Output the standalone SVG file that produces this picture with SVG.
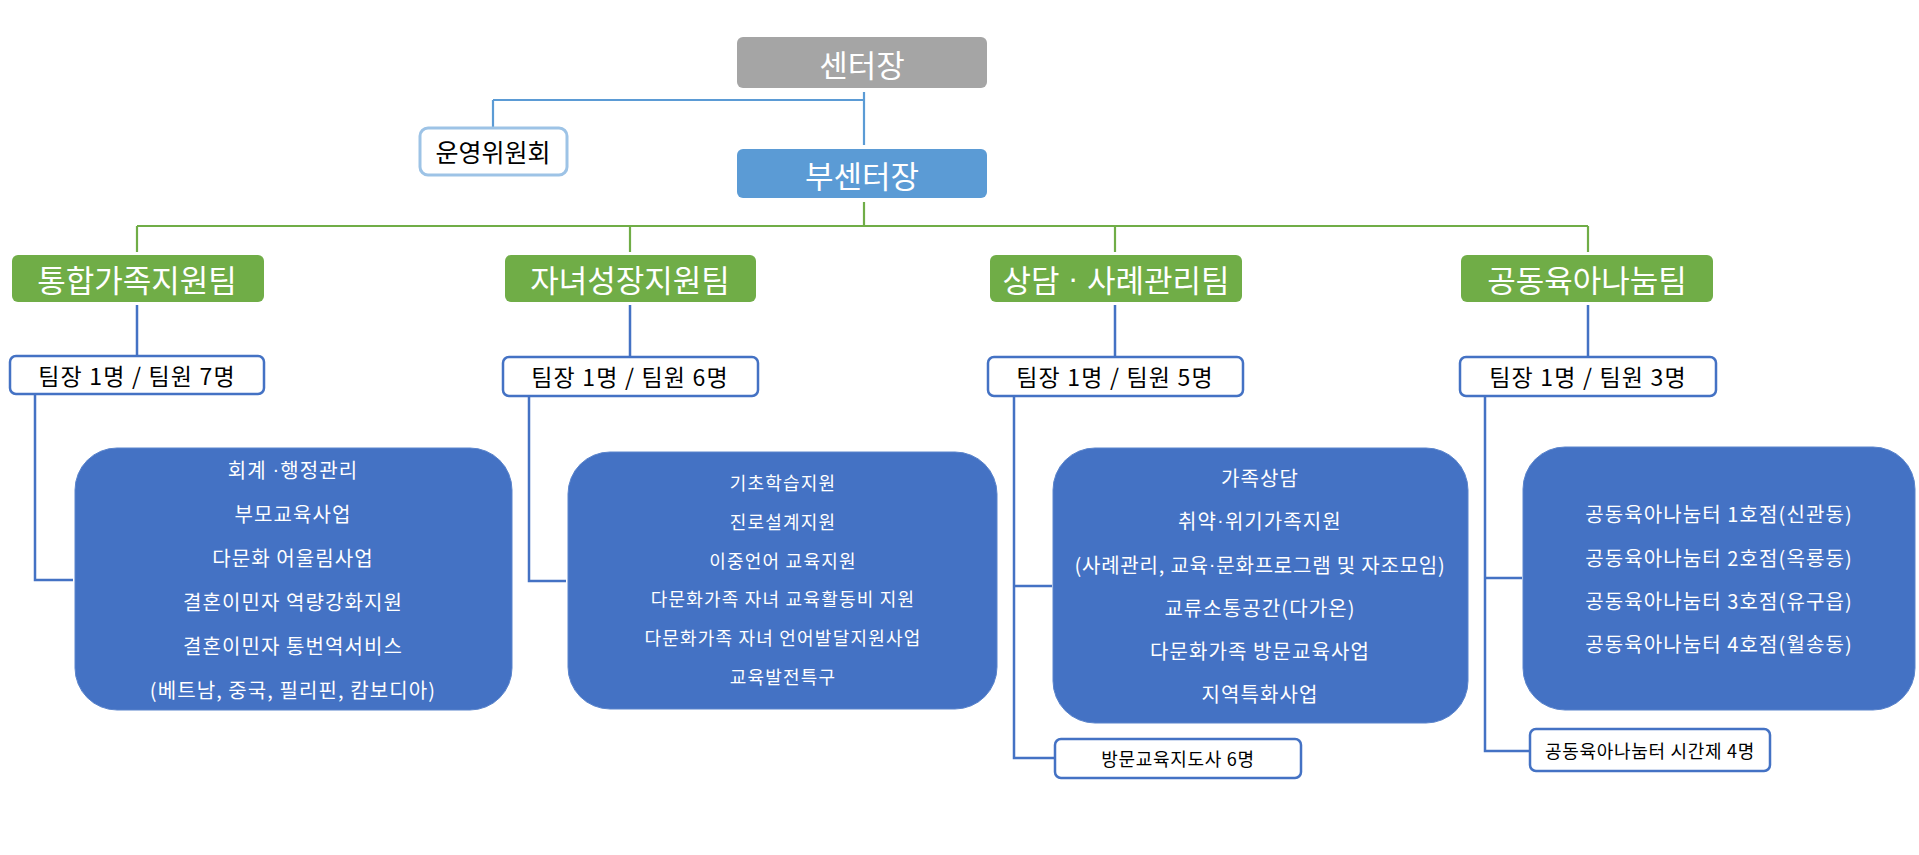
<svg xmlns="http://www.w3.org/2000/svg" width="1919" height="855" viewBox="0 0 1919 855">
<style>
text{font-family:"Noto Sans CJK KR","Noto Sans",sans-serif;text-anchor:middle;dominant-baseline:central}
.lg{font-size:31px;fill:#fff}
.mid{font-size:25px;fill:#000}
.tl{font-size:23px;fill:#000;letter-spacing:1.2px}
.bt{font-size:20px;fill:#fff;letter-spacing:1.1px}
.bt2{font-size:18px;fill:#fff;letter-spacing:1.2px}
.sm{font-size:18px;fill:#000;letter-spacing:0.7px}
.dot{font-family:"Liberation Sans",sans-serif}
.team{fill:#70AD47}
.lead{fill:#fff;stroke:#4472C4;stroke-width:2.5}
.big{fill:#4472C4;stroke:#5A84CC;stroke-width:1}
.g{stroke:#70AD47;stroke-width:2.2;fill:none}
.b{stroke:#4472C4;stroke-width:2.5;fill:none}
.lb{stroke:#5B9BD5;stroke-width:2.2;fill:none}
</style>
<rect width="1919" height="855" fill="#fff"/>
<g id="connectors">
<path class="lb" d="M864 92V145M493 100H864M493 100V127"/>
<path class="g" d="M864 202V226M137 226H1588M137 226V252M630 226V252M1115 226V252M1588 226V252"/>
<path class="b" d="M137 305V356M630 305V357M1115 305V357M1588 305V356"/>
<path class="b" d="M35 394V580H73"/>
<path class="b" d="M529 396V581H566"/>
<path class="b" d="M1014 396V758H1055M1014 586H1052"/>
<path class="b" d="M1485 396V751H1530M1485 578H1522"/>
</g>
<g id="n-center"><rect x="737" y="37" width="250" height="51" rx="6" fill="#A5A5A5"/><text class="lg" x="862" y="63">센터장</text></g>
<g id="n-committee"><rect x="420" y="128" width="147" height="47" rx="8" fill="#fff" stroke="#9DC3E6" stroke-width="3"/><text class="mid" x="493" y="151">운영위원회</text></g>
<g id="n-vice"><rect x="737" y="149" width="250" height="49" rx="6" fill="#5B9BD5"/><text class="lg" x="862" y="174">부센터장</text></g>
<g id="n-team1"><rect class="team" x="12" y="255" width="252" height="47" rx="6"/><text class="lg" x="137" y="278">통합가족지원팀</text></g>
<g id="n-team2"><rect class="team" x="505" y="255" width="251" height="47" rx="6"/><text class="lg" x="630" y="278">자녀성장지원팀</text></g>
<g id="n-team3"><rect class="team" x="990" y="255" width="252" height="47" rx="6"/><text class="lg" x="1116" y="278">상담<tspan class="dot"> · </tspan>사례관리팀</text></g>
<g id="n-team4"><rect class="team" x="1461" y="255" width="252" height="47" rx="6"/><text class="lg" x="1587" y="278">공동육아나눔팀</text></g>
<g id="n-lead1"><rect class="lead" x="10" y="356" width="254" height="38" rx="6"/><text class="tl" x="137" y="375">팀장 1명 / 팀원 7명</text></g>
<g id="n-lead2"><rect class="lead" x="503" y="357" width="255" height="39" rx="6"/><text class="tl" x="630" y="376">팀장 1명 / 팀원 6명</text></g>
<g id="n-lead3"><rect class="lead" x="988" y="357" width="255" height="39" rx="6"/><text class="tl" x="1115" y="376">팀장 1명 / 팀원 5명</text></g>
<g id="n-lead4"><rect class="lead" x="1460" y="357" width="256" height="39" rx="6"/><text class="tl" x="1588" y="376">팀장 1명 / 팀원 3명</text></g>
<g id="n-work1"><rect class="big" x="75" y="448" width="437" height="262" rx="42"/>
<text class="bt" x="293" y="469">회계 <tspan class="dot">·</tspan>행정관리</text>
<text class="bt" x="293" y="513">부모교육사업</text>
<text class="bt" x="293" y="557">다문화 어울림사업</text>
<text class="bt" x="293" y="601">결혼이민자 역량강화지원</text>
<text class="bt" x="293" y="645">결혼이민자 통번역서비스</text>
<text class="bt" x="293" y="689">(베트남, 중국, 필리핀, 캄보디아)</text>
</g>
<g id="n-work2"><rect class="big" x="568" y="452" width="429" height="257" rx="42"/>
<text class="bt2" x="783" y="482">기초학습지원</text>
<text class="bt2" x="783" y="521">진로설계지원</text>
<text class="bt2" x="783" y="560">이중언어 교육지원</text>
<text class="bt2" x="783" y="598">다문화가족 자녀 교육활동비 지원</text>
<text class="bt2" x="783" y="637">다문화가족 자녀 언어발달지원사업</text>
<text class="bt2" x="783" y="676">교육발전특구</text>
</g>
<g id="n-work3"><rect class="big" x="1053" y="448" width="415" height="275" rx="42"/>
<text class="bt" x="1260" y="477">가족상담</text>
<text class="bt" x="1260" y="520">취약<tspan class="dot">·</tspan>위기가족지원</text>
<text class="bt" x="1260" y="564" style="letter-spacing:0.8px">(사례관리, 교육<tspan class="dot">·</tspan>문화프로그램 및 자조모임)</text>
<text class="bt" x="1260" y="607">교류소통공간(다가온)</text>
<text class="bt" x="1260" y="650">다문화가족 방문교육사업</text>
<text class="bt" x="1260" y="693">지역특화사업</text>
</g>
<g id="n-work4"><rect class="big" x="1523" y="447" width="392" height="263" rx="42"/>
<text class="bt" x="1719" y="513">공동육아나눔터 1호점(신관동)</text>
<text class="bt" x="1719" y="557">공동육아나눔터 2호점(옥룡동)</text>
<text class="bt" x="1719" y="600">공동육아나눔터 3호점(유구읍)</text>
<text class="bt" x="1719" y="643">공동육아나눔터 4호점(월송동)</text>
</g>
<g id="n-visit"><rect class="lead" x="1055" y="739" width="246" height="39" rx="6"/><text class="sm" x="1178" y="758">방문교육지도사 6명</text></g>
<g id="n-parttime"><rect class="lead" x="1530" y="729" width="240" height="42" rx="6"/><text class="sm" x="1650" y="750">공동육아나눔터 시간제 4명</text></g>
</svg>
